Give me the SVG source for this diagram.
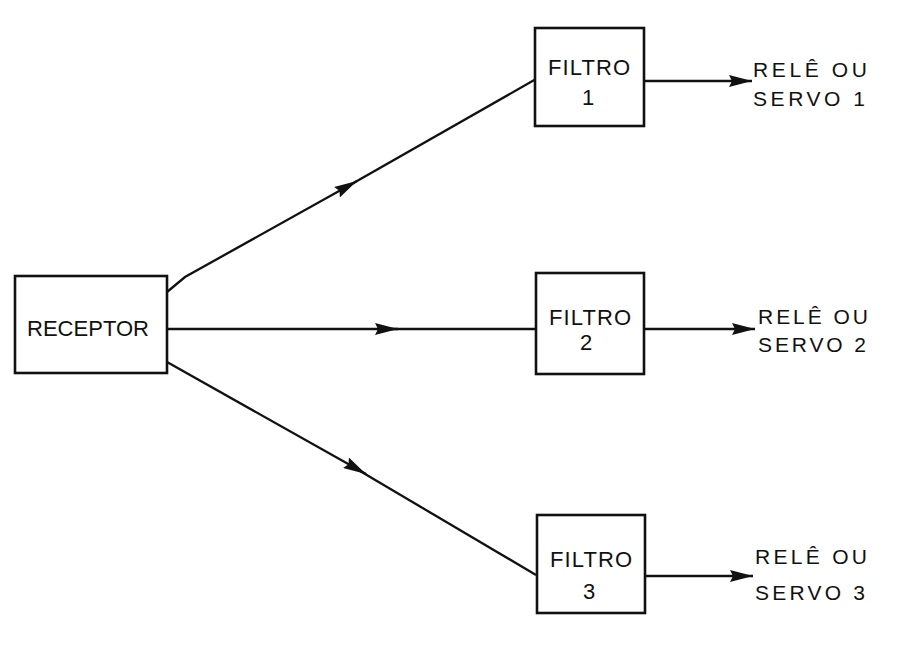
<svg xmlns="http://www.w3.org/2000/svg" width="904" height="653" viewBox="0 0 904 653">
<defs>
<style>
.box{fill:#fff;stroke:#111;stroke-width:2.6}
.ln{fill:none;stroke:#111;stroke-width:2.3}
.t{font-family:"Liberation Sans",Arial,sans-serif;font-size:22px;fill:#111;text-anchor:middle}
.l{font-family:"Liberation Sans",Arial,sans-serif;font-size:21px;fill:#111}
</style>
<marker id="ah" markerWidth="23" markerHeight="12" refX="23" refY="6" orient="auto" markerUnits="userSpaceOnUse">
<path d="M0,0 L23,6 L0,12 L3,6 Z" fill="#111"/>
</marker>
</defs>
<rect width="904" height="653" fill="#fff"/>
<g id="connectors">
<polyline class="ln" points="167,292 185,277 357,181" marker-end="url(#ah)"/>
<line class="ln" x1="350" y1="185" x2="536" y2="79"/>
<line class="ln" x1="167" y1="329" x2="398" y2="329" marker-end="url(#ah)"/>
<line class="ln" x1="390" y1="329" x2="536" y2="329"/>
<line class="ln" x1="167" y1="362" x2="366" y2="474" marker-end="url(#ah)"/>
<line class="ln" x1="360" y1="471" x2="536" y2="575"/>
<line class="ln" x1="644" y1="81" x2="752" y2="81" marker-end="url(#ah)"/>
<line class="ln" x1="644" y1="329" x2="755" y2="329" marker-end="url(#ah)"/>
<line class="ln" x1="645" y1="576" x2="753" y2="576" marker-end="url(#ah)"/>
</g>
<g id="receptor">
<rect class="box" x="15" y="276" width="152" height="97"/>
<text class="t" x="88" y="336" textLength="122" lengthAdjust="spacing">RECEPTOR</text>
</g>
<g id="filtro1">
<rect class="box" x="535" y="28" width="109" height="98"/>
<text class="t" x="589" y="75" textLength="82" lengthAdjust="spacing">FILTRO</text>
<text class="t" x="588" y="105">1</text>
</g>
<g id="filtro2">
<rect class="box" x="536" y="273" width="108" height="101"/>
<text class="t" x="590" y="325" textLength="82" lengthAdjust="spacing">FILTRO</text>
<text class="t" x="586" y="350">2</text>
</g>
<g id="filtro3">
<rect class="box" x="537" y="515" width="108" height="98"/>
<text class="t" x="591" y="567" textLength="82" lengthAdjust="spacing">FILTRO</text>
<text class="t" x="589" y="599">3</text>
</g>
<g id="saida1">
<text class="l" x="753" y="77" textLength="114" lengthAdjust="spacing">RELÊ  OU</text>
<text class="l" x="753" y="106" textLength="112" lengthAdjust="spacing">SERVO  1</text>
</g>
<g id="saida2">
<text class="l" x="758" y="324" textLength="110" lengthAdjust="spacing">RELÊ OU</text>
<text class="l" x="758" y="352" textLength="108" lengthAdjust="spacing">SERVO  2</text>
</g>
<g id="saida3">
<text class="l" x="755" y="564" textLength="112" lengthAdjust="spacing">RELÊ  OU</text>
<text class="l" x="755" y="600" textLength="110" lengthAdjust="spacing">SERVO  3</text>
</g>
</svg>
